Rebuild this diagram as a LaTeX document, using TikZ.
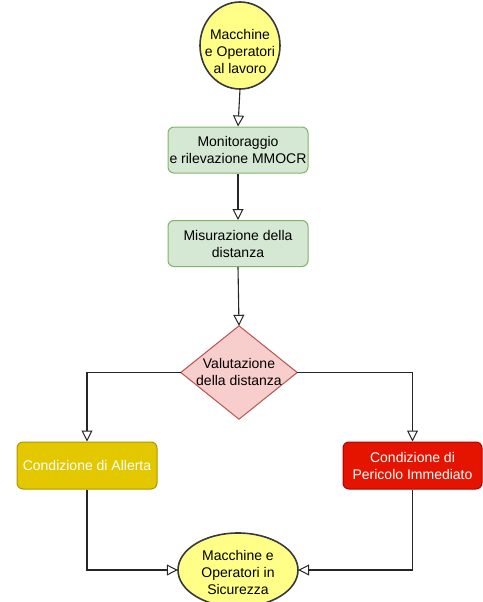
\documentclass[tikz,border=0pt]{standalone}
\usepackage{fontspec}
\setmainfont{Liberation Sans}
\usetikzlibrary{arrows.meta}
\definecolor{ylwfill}{HTML}{FFFF88}
\definecolor{ylwline}{HTML}{36393D}
\definecolor{grnfill}{HTML}{D5E8D4}
\definecolor{grnline}{HTML}{82B366}
\definecolor{redfill}{HTML}{F8CECC}
\definecolor{redline}{HTML}{B85450}
\definecolor{alfill}{HTML}{E3C800}
\definecolor{alline}{HTML}{B09500}
\definecolor{pefill}{HTML}{E51400}
\definecolor{peline}{HTML}{B20000}
\tikzset{
  txt/.style={font=\fontsize{14}{17}\selectfont, align=center, inner sep=0pt},
  greenbox/.style={txt, draw=grnline, fill=grnfill, line width=1pt, rounded corners=6pt, minimum width=140pt, minimum height=46pt},
  alertbox/.style={txt, draw=alline, fill=alfill, text=white, line width=1pt, rounded corners=6pt, minimum width=140pt, minimum height=47pt},
  dangerbox/.style={txt, draw=peline, fill=pefill, text=white, line width=1pt, rounded corners=6pt, minimum width=139pt, minimum height=47pt},
  conn/.style={line width=1.1pt, draw=black!85, -{Triangle[open, length=11pt, width=11pt, line width=1pt]}},
}
\begin{document}
\begin{tikzpicture}[x=1pt, y=-1pt]
\useasboundingbox (0,0) rectangle (482,602);
% top circle
\node[txt, minimum width=80pt, minimum height=87pt] (start) at (240,45.5) {};
\draw[draw=ylwline, fill=ylwfill, line width=1.6pt] (start.center) ellipse [x radius=40, y radius=43.5];
\node[txt] (starttxt) at (240,51) {Macchine\\e Operatori\\al lavoro};
% boxes
\node[greenbox] (mon) at (238,150) {Monitoraggio\\e rilevazione MMOCR};
\node[greenbox] (mis) at (238,243.5) {Misurazione della\\distanza};
% diamond
\node[txt, minimum width=116pt, minimum height=93pt] (val) at (239,372.5) {};
\draw[draw=redline, fill=redfill, line width=1pt] (val.north) -- (val.east) -- (val.south) -- (val.west) -- cycle;
\node[txt] (valtxt) at (239,372) {Valutazione\\della distanza};
% outcome boxes
\node[alertbox] (all) at (87,465.5) {Condizione di Allerta};
\node[dangerbox] (per) at (412.5,465.5) {Condizione di\\Pericolo Immediato};
% bottom ellipse
\node[txt, minimum width=120pt, minimum height=74pt] (safe) at (238,570) {};
\draw[draw=ylwline, fill=ylwfill, line width=1.6pt] (safe.center) ellipse [x radius=60, y radius=37];
\node[txt] (safetxt) at (238,572) {Macchine e\\Operatori in\\Sicurezza};
% connectors
\draw[conn] (start.south) -- (mon.north);
\draw[conn] (mon.south) -- (mis.north);
\draw[conn] (mis.south) -- (val.north);
\draw[conn] (val.west) -| (all.north);
\draw[conn] (val.east) -| (per.north);
\draw[conn] (all.south) |- (safe.west);
\draw[conn] (per.south) |- (safe.east);
\end{tikzpicture}
\end{document}
